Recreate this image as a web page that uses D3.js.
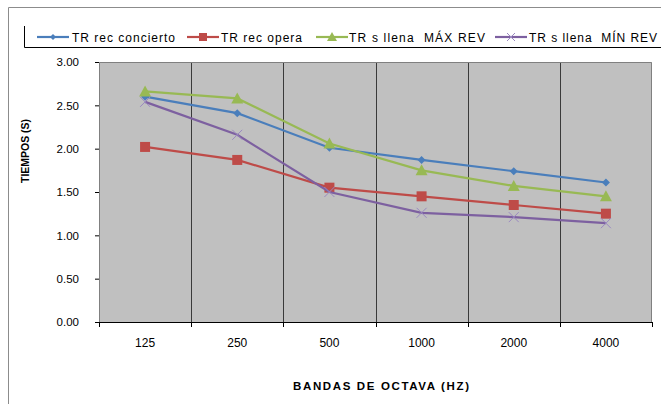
<!DOCTYPE html>
<html><head><meta charset="utf-8">
<script src="https://cdn.jsdelivr.net/npm/d3@7"></script>
<style>body{margin:0;background:#fff}svg{display:block;font-family:"Liberation Sans",Arial,sans-serif}text{white-space:pre}</style>
</head><body><svg id="c" width="661" height="404"></svg>
<script>
const categories = ["125","250","500","1000","2000","4000"];
const seriesNames = ["TR rec concierto","TR rec opera","TR s llena  MÁX REV","TR s llena  MÍN REV"];
const concierto = [2.60,2.41,2.01,1.87,1.74,1.61];
const opera     = [2.02,1.87,1.55,1.45,1.35,1.25];
const maxRev    = [2.66,2.58,2.06,1.75,1.57,1.45];
const minRev    = [2.54,2.16,1.50,1.26,1.21,1.14];
const yTicks = [0,0.5,1,1.5,2,2.5,3];
const colors = ["#4a7ebb","#be4b48","#98b954","#7d60a0"];
const markers = ["diamond","square","triangle","x"];
const series = [concierto, opera, maxRev, minRev];

const svg = d3.select("#c");
const L=99,R=652,T=62,B=322;
svg.append("path").attr("d","M8.5,404 V7.5 H661").attr("fill","none").attr("stroke","#8c8c8c");
const x = d3.scaleBand().domain(categories).range([L,R]);
const y = d3.scaleLinear().domain([0,3]).range([B,T]);
svg.append("rect").attr("x",L).attr("y",T).attr("width",R-L).attr("height",B-T).attr("fill","#c0c0c0");
svg.append("g").selectAll("line").data(categories.slice(1)).join("line")
  .attr("x1",d=>Math.round(x(d))+0.5).attr("x2",d=>Math.round(x(d))+0.5).attr("y1",T).attr("y2",B)
  .attr("stroke","#3a3a3a").attr("stroke-width",1);
svg.append("path").attr("d",`M${L+0.5},${B} V${T+0.5} H${R-0.5} V${B}`).attr("fill","none").attr("stroke","#808080");
const ya = svg.append("g").attr("transform",`translate(${L},0)`)
  .call(d3.axisLeft(y).tickValues(yTicks).tickFormat(d3.format(".2f")).tickSize(4).tickPadding(16));
ya.select(".domain").remove();
ya.selectAll("line").attr("stroke","#000");
ya.selectAll("text").attr("font-size",11.5).attr("fill","#000").attr("font-family","Liberation Sans, Arial, sans-serif");
const xa = svg.append("g").attr("transform",`translate(0,${B})`)
  .call(d3.axisBottom(x).tickSize(0).tickPadding(16));
xa.select(".domain").attr("stroke","#000").attr("d",`M${L},0.5H${R}`);
xa.selectAll("text").attr("font-size",12).attr("fill","#000").attr("font-family","Liberation Sans, Arial, sans-serif");
svg.append("g").selectAll("line").data([L, ...categories.slice(1).map(d=>x(d)), R]).join("line")
  .attr("x1",d=>Math.round(d)+0.5).attr("x2",d=>Math.round(d)+0.5).attr("y1",B).attr("y2",B+5).attr("stroke","#000");
svg.append("text").attr("transform","translate(29,151) rotate(-90)").attr("text-anchor","middle")
  .attr("font-size",10.5).attr("font-weight","bold").attr("textLength",64).attr("lengthAdjust","spacing").text("TIEMPOS (S)");
svg.append("text").attr("x",381).attr("y",390).attr("text-anchor","middle")
  .attr("font-size",11.5).attr("font-weight","bold").attr("textLength",176).attr("lengthAdjust","spacing").text("BANDAS DE OCTAVA (HZ)");

function drawMarker(g, type, color, cx, cy, s){
  if(type==="diamond") g.append("path").attr("d",`M${cx},${cy-s}L${cx+s},${cy}L${cx},${cy+s}L${cx-s},${cy}Z`).attr("fill",color);
  else if(type==="square") g.append("rect").attr("x",cx-s).attr("y",cy-s).attr("width",2*s).attr("height",2*s).attr("fill",color);
  else if(type==="triangle") g.append("path").attr("d",`M${cx},${cy-s-1}L${cx+s+1},${cy+s}L${cx-s-1},${cy+s}Z`).attr("fill",color);
  else g.append("path").attr("d",`M${cx-s},${cy-s}L${cx+s},${cy+s}M${cx-s},${cy+s}L${cx+s},${cy-s}`).attr("stroke","#9a88c0").attr("stroke-width",1);
}
const sizes=[4,5,5,5];
const line = d3.line().x((d,i)=>x(categories[i])+x.bandwidth()/2).y(d=>y(d));
series.forEach((s,k)=>{
  const g = svg.append("g");
  g.append("path").attr("d",line(s)).attr("fill","none").attr("stroke",colors[k]).attr("stroke-width",2.2);
  s.forEach((v,i)=>drawMarker(g,markers[k],colors[k],x(categories[i])+x.bandwidth()/2,y(v),sizes[k]));
});
svg.append("path").attr("d","M24.5,26 V47.5 H661").attr("fill","none").attr("stroke","#000");
const legX=[37,187,316,495];
const legText=[72,221,349,529];
const legLen=[103,81,136,128];
seriesNames.forEach((n,k)=>{
  const g=svg.append("g");
  g.append("line").attr("x1",legX[k]).attr("x2",legX[k]+32).attr("y1",37).attr("y2",37).attr("stroke",colors[k]).attr("stroke-width",2.2);
  drawMarker(g,markers[k],colors[k],legX[k]+16,37,markers[k]==="diamond"?3:4);
  g.append("text").attr("x",legText[k]).attr("y",42).attr("font-size",12).attr("fill","#000")
    .attr("textLength",legLen[k]).attr("lengthAdjust","spacing").text(n);
});
</script></body></html>
